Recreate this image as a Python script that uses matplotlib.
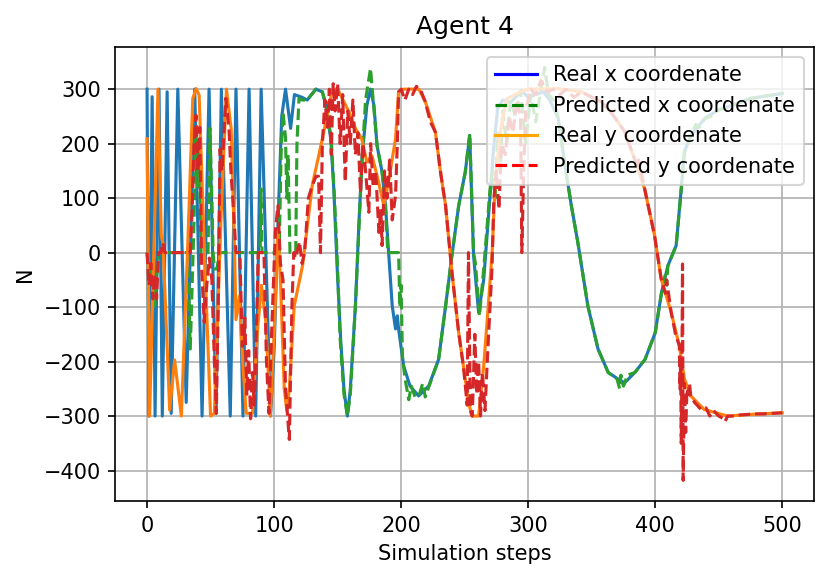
import matplotlib
matplotlib.use("Agg")
import matplotlib.pyplot as plt
from matplotlib.lines import Line2D

# ---- Real x coordinate (blue) ----
real_x_steps = [0, 1.5, 4, 6.3, 9.4, 12, 15.8, 19, 24.2, 30.8, 37.5, 43.3, 48.8, 54.3,
                58.5, 65.5, 70, 75.5, 80.3, 85.5, 89.8, 97.2, 100, 103, 106, 109, 113,
                116, 122, 126, 132.8, 138, 140.7, 144.6, 147, 149.8, 152.4, 155, 157.7,
                160, 164, 166.8, 169.4, 173, 175.9, 178.6, 181, 185, 187.7, 190.3, 193,
                195.6, 197, 198, 202, 207, 213.8, 221.7, 229.5, 235, 240, 245.3, 250.5,
                254, 257, 261, 265, 270, 272.7, 276, 280, 286, 290, 295, 300, 306, 312,
                317, 323.7, 329, 334, 339, 347, 355, 363, 370.7, 376, 384, 392, 400,
                405, 410, 416.5, 420.5, 423, 428, 439, 449, 460, 475, 500]
real_x_vals = [300, -300, 286, -300, 300, -300, 295, -295, 300, -275, 300, -300, 300, -295,
               300, -300, 300, -300, 300, -300, 300, -300, -180, 50, 250, 300, 228,
               290, 285, 280, 300, 295, 270, 209, 117, -36, -159, -251, -300,
               -251, -98, 56, 178, 270, 300, 270, 197, 148, 86, -5, -98,
               -140, -116, -140, -208, -245, -263, -245, -196, -98, -5, 86, 148,
               215, -5, -110, -50, 105, 190, 265, 280, 275, 285, 297, 285, 290, 295,
               280, 246, 160, 86, 20, -98, -177, -220, -232, -239, -220, -196, -147,
               -73, -24, 13, 117, 185, 215, 246, 261, 270, 283, 292]

# ---- Predicted x coordinate (green) ----
pred_x_steps = [0, 2, 4, 6, 8, 9.5, 32, 34, 35.5, 37, 38.5, 40, 41, 42.5, 48, 49.5, 51,
                52, 53, 55, 57, 89, 89.6, 90.5, 104, 105.5, 107, 109, 110, 111, 112.5,
                117, 118, 119.6, 122, 126, 133, 138, 141, 145, 147.5, 149.5, 152, 155,
                157.7, 160, 164, 167, 169.4, 172, 175.9, 178, 181, 185, 187.7, 189.5,
                198, 199, 200, 201, 203, 206, 208, 211, 214, 217, 219, 222, 229.5, 235,
                240, 245.3, 250.5, 254, 257, 258.5, 261.7, 265, 270, 272, 274, 276,
                278, 280, 283, 286, 290, 294, 298, 302, 306, 310, 313, 316, 320, 323.7,
                329, 334, 339, 347, 355, 363, 370, 372, 373, 375, 376, 378, 384, 392,
                400, 405, 408, 409, 410, 416.5, 420.5, 423, 428, 432, 435, 439, 444,
                449, 460, 475, 500]
pred_x_vals = [0, -50, -20, -98, -30, 0, 0, -177, -60, 60, 221, 120, 200, 0, 0, 228, 100,
               0, -30, -30, 0, 0, 117, 0, 0, 180, 258, 210, 100, 180, 0,
               0, 200, 283, 280, 280, 300, 295, 270, 209, 100, 0, -159, -260,
               -300, -260, -98, 56, 178, 280, 338, 280, 197, 148, 86, 0,
               0, -100, -60, -190, -230, -270, -245, -265, -263, -240, -265, -245, -196, -98,
               -5, 86, 148, 218, 0, -20, -116, -30, 117, 150, 100, 220,
               150, 260, 200, 280, 250, 297, 200, 290, 240, 300, 340, 290, 280, 246,
               160, 86, 20, -98, -177, -220, -232, -250, -225, -245, -239, -225, -220, -196,
               -147, -73, -40, -60, -24, 13, 117, 185, 215, 235, 230, 246, 250,
               261, 270, 283, 292]

# ---- Real y coordinate (orange) ----
real_y_steps = [0, 2, 8.6, 11.2, 12.5, 17.8, 21.7, 27, 32, 36, 38.6, 41, 45, 50, 53,
                58, 62.5, 66.2, 68.8, 70, 72.7, 75.3, 78, 83, 87, 90, 93.5, 97, 100,
                103, 105, 108, 110, 112, 115.8, 122.4, 130, 138, 146, 150, 159, 164,
                169, 173, 177, 181, 186.4, 190, 195.6, 198, 202, 214, 219, 227, 231,
                235, 240, 245.3, 249, 253, 255.7, 261, 265, 269, 271.8, 274, 278, 283,
                294, 300, 323.7, 342, 357.6, 366, 376, 384, 391.7, 399.5, 404.7, 412.6,
                419, 423, 428, 438.6, 457, 475, 500]
real_y_vals = [209, -300, 300, 30, 18, -289, -197, -300, 12, 283, 301, 289, 12, -300, -295,
               50, 300, 227, 12, -123, -80, -200, -295, -295, -141, -60, -128, -300, -150,
               40, -50, -250, -290, -250, -98, -24, 123, 209, 300, 300, 258, 228,
               209, 166, 178, 142, 86, 129, 209, 295, 300, 300, 277, 221, 148,
               86, -36, -147, -208, -274, -300, -300, -208, -85, 7, 129, 220, 282,
               295, 300, 301, 295, 277, 255, 222, 170, 117, 31, -48, -110,
               -171, -232, -263, -288, -300, -297, -294]

# ---- Predicted y coordinate (red) ----
pred_y_steps = [0, 1.5, 3, 4.5, 6, 7.5, 9, 11, 12.5, 14, 34, 35.5, 37, 38.5, 40, 41.5,
                43, 45, 47, 49, 51, 53, 54.5, 56, 57.5, 59, 62, 64.5, 66, 68, 70, 73,
                75, 77, 78.5, 80, 81.5, 83, 84.5, 86, 87.5, 92, 94, 96, 98, 101, 103,
                105, 107, 109, 112, 114, 115.5, 117, 120, 122, 124, 127, 130, 133, 135,
                136.5, 138, 140, 142, 143.5, 145, 146.5, 148, 150, 152, 154, 156, 158,
                160, 162, 164, 166, 168, 170, 172, 174.6, 176, 178, 180, 182.5, 184,
                185, 187, 189, 191, 193, 195.6, 197, 198, 200, 203, 206, 209, 212, 215,
                219, 223, 227, 231, 235, 240, 245.3, 249, 252, 253, 254.5, 256, 258,
                259.5, 261, 262.5, 264, 266, 268, 270, 271.5, 273, 275, 277, 279, 282,
                285, 288, 291, 294, 295, 296.5, 298, 302, 306, 310, 315, 320, 325, 330,
                336, 342, 350, 357.6, 366, 376, 384, 386, 387, 391.7, 399.5, 404.7, 408,
                409, 412.6, 416, 419, 419.5, 420, 420.5, 421, 421.5, 422, 423, 424, 425,
                426, 427, 428, 431, 433, 436, 440, 443, 446, 450, 454, 455, 457, 462,
                467, 472, 478, 485, 500]
pred_y_vals = [0, -60, -20, -85, -40, -85, 0, 0, 18, 0, 0, 80, 200, 252, 150, 230,
               -30, -128, -60, -10, -50, -200, -295, -100, 190, 150, 283, 227, 150, 80, 0, 0,
               -172, -120, -260, -180, -305, -220, -280, -150, 0, 0, -200, -295, -150, 40, 86,
               -20, -50, -250, -343, -100, 0, -10, 20, -20, 0, 100, 123, 140, 140,
               0, 200, 280, 230, 300, 180, 310, 260, 310, 200, 290, 130, 260,
               200, 280, 180, 220, 110, 200, 150, 74, 200, 120, 150, 37, 80,
               13, 150, 100, 170, 60, 105, 200, 295, 300, 280, 300, 290, 305, 300,
               277, 240, 221, 148, 86, -36, -147, -208, -280, 0, -290, -300, -150,
               -260, -200, -300, -220, -290, -190, -100, -30, 100, 150, 80, 200, 180,
               250, 220, 280, 250, 0, 150, 260, 300, 290, 316, 295, 300, 290, 300,
               285, 295, 285, 277, 255, 222, 170, 155, 170, 117, 31, -48, -75,
               -50, -110, -150, -171, -250, -200, -350, -220, -21, -418, -240, -330, -250,
               -260, -240, -263, -275, -280, -288, -285, -300, -290, -300, -305, -310, -300, -300,
               -298, -297, -296, -296, -294]

title = "Agent 4"
xlabel = "Simulation steps"
ylabel = "N"
legend_labels = ["Real x coordenate", "Predicted x coordenate",
                 "Real y coordenate", "Predicted y coordenate"]

DPI = 150
fig = plt.figure(figsize=(831 / DPI, 580 / DPI), dpi=DPI)
ax = fig.add_axes([115.3 / 831, 79 / 580, (814 - 115.3) / 831, (501 - 46.7) / 580])

ax.plot(real_x_steps, real_x_vals, color="C0")
ax.plot(pred_x_steps, pred_x_vals, color="C2", linestyle="--")
ax.plot(real_y_steps, real_y_vals, color="C1")
ax.plot(pred_y_steps, pred_y_vals, color="C3", linestyle="--")

ax.set_title(title, fontsize=12)
ax.set_xlabel(xlabel)
ax.set_ylabel(ylabel)
ax.grid(True)

handles = [Line2D([0], [0], color="blue"),
           Line2D([0], [0], color="green", linestyle="--"),
           Line2D([0], [0], color="orange"),
           Line2D([0], [0], color="red", linestyle="--")]
ax.legend(handles, legend_labels, loc="upper right")

fig.savefig("out.png", dpi=DPI)
